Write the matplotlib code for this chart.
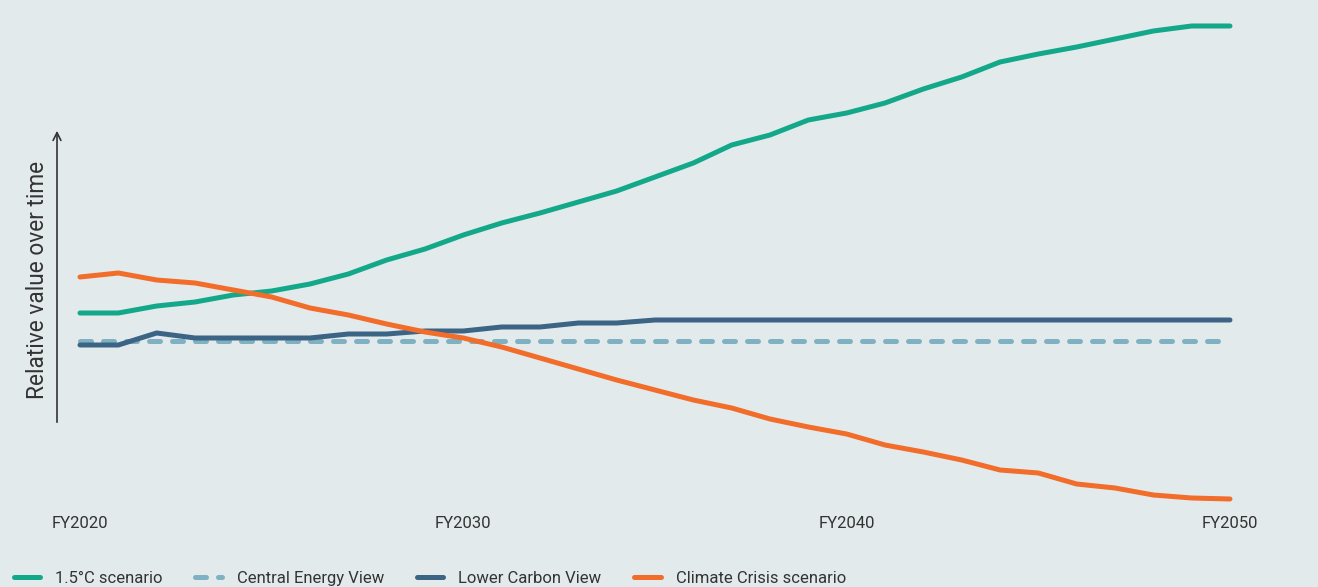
import numpy as np
import matplotlib
matplotlib.use("Agg")
import matplotlib.pyplot as plt

# years on the x axis
years = np.arange(2020, 2051)

# relative index values (central view = 100)
scenario_15c = [114, 114, 117.5, 119.5, 123, 125, 128.5, 133.5, 140.5, 146,
                153, 159, 164, 169.5, 175, 182, 189, 198, 203, 210.5,
                214, 219, 226, 232, 239.5, 243.5, 247, 251, 255, 257.5, 257.5]
central_view = [100] * 31
lower_carbon = [98, 98, 104, 101.5, 101.5, 101.5, 101.5, 103.5, 103.5, 105,
                105, 107, 107, 109, 109, 110.5, 110.5, 110.5, 110.5, 110.5,
                110.5, 110.5, 110.5, 110.5, 110.5, 110.5, 110.5, 110.5, 110.5, 110.5, 110.5]
climate_crisis = [132, 134, 130.5, 129, 125.5, 122, 116.5, 113, 108.5, 104.5,
                  101.5, 97, 91.5, 86, 80.5, 75.5, 70.5, 66.5, 61, 57,
                  53.5, 48, 44.5, 40.5, 35.5, 34, 28.5, 26.5, 23, 21.5, 21]

tick_years = [2020, 2030, 2040, 2050]
tick_labels = ["FY2020", "FY2030", "FY2040", "FY2050"]

bg = "#e3eaec"
c_green = "#14a88a"
c_central = "#7fb1c2"
c_lower = "#3b6485"
c_orange = "#f26c2a"

plt.rcParams['font.family'] = ['Roboto', 'DejaVu Sans']

fig = plt.figure(figsize=(13.18, 5.87), dpi=100, facecolor=bg)
ax = fig.add_axes([0, 82 / 587, 1, 505 / 587])
ax.set_facecolor(bg)

lw = 3.6
ax.plot(years, scenario_15c, color=c_green, lw=lw, solid_capstyle='round',
        solid_joinstyle='round', label="1.5°C scenario", clip_on=False)
ax.plot(years, central_view, color=c_central, lw=lw, dashes=(2.2, 2.4),
        dash_capstyle='round', label="Central Energy View", clip_on=False)
ax.plot(years, lower_carbon, color=c_lower, lw=lw, solid_capstyle='round',
        solid_joinstyle='round', label="Lower Carbon View", clip_on=False)
ax.plot(years, climate_crisis, color=c_orange, lw=lw, solid_capstyle='round',
        solid_joinstyle='round', label="Climate Crisis scenario", clip_on=False)

ppy = 1150 / 30
ax.set_xlim(2020 - 80 / ppy, 2050 + 88 / ppy)
ax.set_ylim(18, 270.5)

for s in ax.spines.values():
    s.set_visible(False)
ax.set_yticks([])
ax.set_xticks(tick_years)
ax.set_xticklabels(tick_labels, fontsize=12, color="#333333")
ax.tick_params(axis='x', length=0, pad=8)

# y axis arrow and label
ax.annotate("", xy=(57 / 1318, 1 - 128 / 505), xytext=(57 / 1318, 1 - 425 / 505),
            xycoords='axes fraction', textcoords='axes fraction',
            arrowprops=dict(arrowstyle='->', color="#333333", lw=1.2,
                            mutation_scale=14))
ax.text(38 / 1318, 1 - 280 / 505, "Relative value over time", rotation=90,
        transform=ax.transAxes, ha='center', va='center', fontsize=16.3,
        color="#333333")

leg = fig.legend(loc='lower left', bbox_to_anchor=(-0.001, -0.023), ncol=4,
                 frameon=False, fontsize=12, handlelength=1.6,
                 handletextpad=0.9, columnspacing=1.95, labelcolor="#333333")

fig.savefig("out.png", dpi=100, facecolor=bg)
